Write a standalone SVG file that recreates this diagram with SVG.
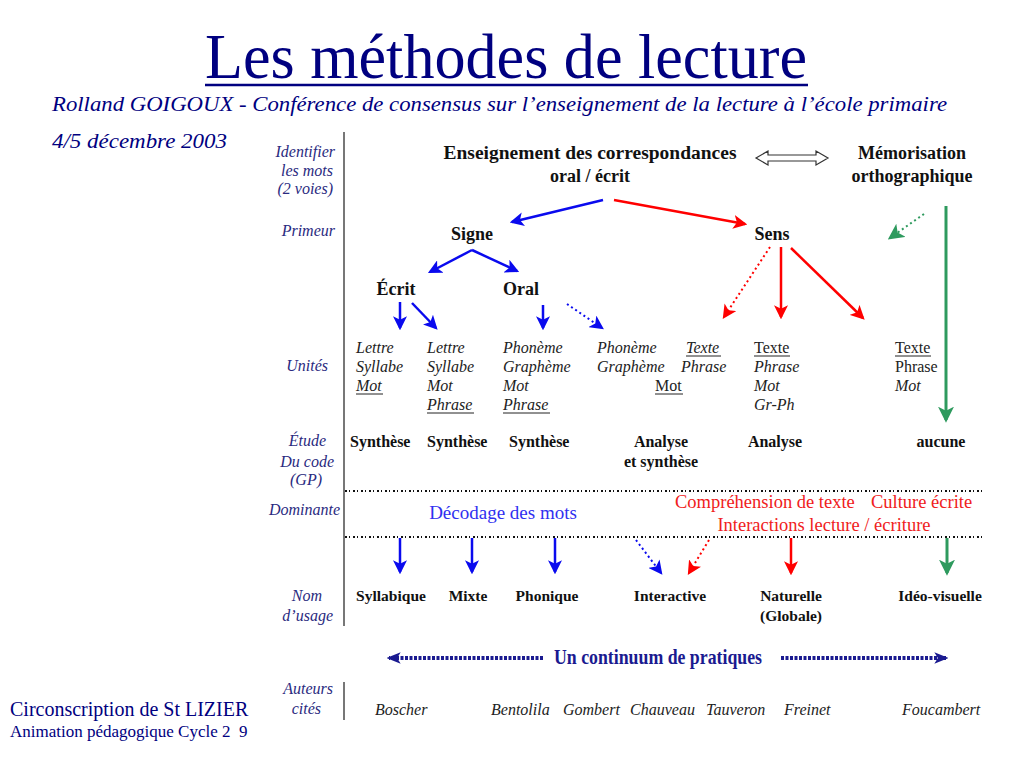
<svg xmlns="http://www.w3.org/2000/svg" width="1024" height="768" viewBox="0 0 1024 768">
<defs>
<style>
text{font-family:"Liberation Serif","Times New Roman",serif}
.title{font-size:64px;fill:#000080}
.sub{font-size:20px;font-style:italic;fill:#000080}
.lab{font-size:16px;font-style:italic;fill:#2a2a80;text-anchor:end}
.node{font-size:18px;font-weight:bold;fill:#111}
.unit{font-size:16px;font-style:italic;fill:#222}
.up{font-size:16px;fill:#222}
.et{font-size:16px;font-weight:bold;fill:#111}
.nom{font-size:15.5px;font-weight:bold;fill:#111}
.aut{font-size:16px;font-style:italic;fill:#222}
.c{text-anchor:middle}
.blue{stroke:#0a0aee;stroke-width:2.5;fill:none}
.red{stroke:#f00;stroke-width:2.5;fill:none}
.green{stroke:#2e9a5e;stroke-width:3;fill:none}
.dot{stroke-dasharray:2,3;stroke-width:2}
.sep{stroke:#111;stroke-width:2;stroke-dasharray:2,2,1,3}
.navy{stroke:#1a1a90;stroke-width:4;stroke-dasharray:3,1.5;fill:none}
</style>
<marker id="ab" viewBox="0 0 12 12" refX="10" refY="6" markerWidth="14" markerHeight="14" markerUnits="userSpaceOnUse" orient="auto"><path d="M0,0 L12,6 L0,12 L3,6 z" fill="#0a0aee"/></marker>
<marker id="ar" viewBox="0 0 12 12" refX="10" refY="6" markerWidth="14" markerHeight="14" markerUnits="userSpaceOnUse" orient="auto"><path d="M0,0 L12,6 L0,12 L3,6 z" fill="#f00"/></marker>
<marker id="ag" viewBox="0 0 12 12" refX="10" refY="6" markerWidth="16" markerHeight="16" markerUnits="userSpaceOnUse" orient="auto"><path d="M0,0 L12,6 L0,12 L3,6 z" fill="#2e9a5e"/></marker>
<marker id="an" viewBox="0 0 12 12" refX="10" refY="6" markerWidth="14" markerHeight="14" markerUnits="userSpaceOnUse" orient="auto"><path d="M0,1 L12,6 L0,11 L3,6 z" fill="#1a1a90"/></marker>
</defs>
<rect width="1024" height="768" fill="#fff"/>

<g id="header">
<text class="title" x="205" y="78" textLength="602" lengthAdjust="spacingAndGlyphs">Les méthodes de lecture</text>
<line x1="205" y1="85" x2="808" y2="85" stroke="#000080" stroke-width="2.5"/>
<text class="sub" x="52" y="111" textLength="895" lengthAdjust="spacingAndGlyphs">Rolland GOIGOUX - Conférence de consensus sur l’enseignement de la lecture à l’école primaire</text>
<text class="sub" x="52" y="148" textLength="175" lengthAdjust="spacingAndGlyphs">4/5 décembre 2003</text>
</g>

<g id="row-labels">
<text class="lab" x="335" y="157">Identifier</text>
<text class="lab" x="333" y="176">les mots</text>
<text class="lab" x="333" y="194">(2 voies)</text>
<text class="lab" x="335" y="236">Primeur</text>
<text class="lab" x="328" y="371">Unités</text>
<text class="lab" x="326" y="446">Étude</text>
<text class="lab" x="334" y="467">Du code</text>
<text class="lab" x="322" y="485">(GP)</text>
<text class="lab" x="340" y="515">Dominante</text>
<text class="lab" x="322" y="601">Nom</text>
<text class="lab" x="333" y="621">d’usage</text>
<text class="lab" x="333" y="694">Auteurs</text>
<text class="lab" x="321" y="714">cités</text>
<line x1="344" y1="132" x2="344" y2="626" stroke="#777" stroke-width="2"/>
<line x1="344" y1="682" x2="344" y2="720" stroke="#777" stroke-width="2"/>
</g>

<g id="top-nodes">
<g id="n-enseignement"><text class="node c" x="590" y="159" textLength="293" lengthAdjust="spacingAndGlyphs">Enseignement des correspondances</text><text class="node c" x="590" y="182">oral / écrit</text></g>
<g id="n-memorisation"><text class="node c" x="912" y="159">Mémorisation</text><text class="node c" x="912" y="182">orthographique</text></g>
<g id="n-signe"><text class="node c" x="472" y="240">Signe</text></g>
<g id="n-sens"><text class="node c" x="772" y="240">Sens</text></g>
<g id="n-ecrit"><text class="node c" x="396" y="295">Écrit</text></g>
<g id="n-oral"><text class="node c" x="521" y="295">Oral</text></g>
</g>

<g id="unites">
<text class="unit" x="356" y="353">Lettre</text><text class="unit" x="356" y="372">Syllabe</text><text class="unit" x="356" y="391">Mot</text>
<line x1="356" y1="394" x2="383" y2="394" stroke="#222"/>
<text class="unit" x="427" y="353">Lettre</text><text class="unit" x="427" y="372">Syllabe</text><text class="unit" x="427" y="391">Mot</text><text class="unit" x="427" y="410">Phrase</text>
<line x1="427" y1="413" x2="474" y2="413" stroke="#222"/>
<text class="unit" x="503" y="353">Phonème</text><text class="unit" x="503" y="372">Graphème</text><text class="unit" x="503" y="391">Mot</text><text class="unit" x="503" y="410">Phrase</text>
<line x1="503" y1="413" x2="550" y2="413" stroke="#222"/>
<text class="unit" x="597" y="353">Phonème</text><text class="unit" x="597" y="372">Graphème</text>
<text class="up" x="655" y="391">Mot</text>
<line x1="655" y1="394" x2="683" y2="394" stroke="#222"/>
<text class="unit" x="686" y="353">Texte</text>
<line x1="686" y1="356" x2="721" y2="356" stroke="#222"/>
<text class="unit" x="681" y="372">Phrase</text>
<text class="up" x="754" y="353">Texte</text>
<line x1="754" y1="356" x2="790" y2="356" stroke="#222"/>
<text class="unit" x="754" y="372">Phrase</text><text class="unit" x="754" y="391">Mot</text><text class="unit" x="754" y="410">Gr-Ph</text>
<text class="up" x="895" y="353">Texte</text>
<line x1="895" y1="356" x2="931" y2="356" stroke="#222"/>
<text class="up" x="895" y="372">Phrase</text><text class="unit" x="895" y="391">Mot</text>
</g>

<g id="etude">
<text class="et" x="350" y="447">Synthèse</text>
<text class="et" x="427" y="447">Synthèse</text>
<text class="et" x="509" y="447">Synthèse</text>
<text class="et c" x="661" y="447">Analyse</text>
<text class="et c" x="661" y="467">et synthèse</text>
<text class="et c" x="775" y="447">Analyse</text>
<text class="et c" x="941" y="447">aucune</text>
</g>

<g id="dominante">
<line class="sep" x1="345" y1="491" x2="983" y2="491"/>
<line class="sep" x1="345" y1="537" x2="983" y2="537"/>
<text x="503" y="519" class="c" font-size="19" fill="#3030f0">Décodage des mots</text>
<text x="675" y="508" font-size="18.5" fill="#f02020">Compréhension de texte</text>
<text x="871" y="508" font-size="18.5" fill="#f02020">Culture écrite</text>
<text x="824" y="531" class="c" font-size="18.5" fill="#f02020">Interactions lecture / écriture</text>
</g>

<g id="noms">
<text class="nom c" x="391" y="601">Syllabique</text>
<text class="nom c" x="468" y="601">Mixte</text>
<text class="nom c" x="547" y="601">Phonique</text>
<text class="nom c" x="670" y="601">Interactive</text>
<text class="nom c" x="791" y="601">Naturelle</text>
<text class="nom c" x="791" y="621">(Globale)</text>
<text class="nom c" x="940" y="601">Idéo-visuelle</text>
</g>

<g id="continuum">
<text x="658" y="664" class="c" font-size="22" font-weight="bold" fill="#1a1a90" font-family="Liberation Sans Narrow, Liberation Sans, sans-serif" textLength="208" lengthAdjust="spacingAndGlyphs">Un continuum de pratiques</text>
<line class="navy" x1="543" y1="658" x2="389" y2="658" marker-end="url(#an)"/>
<line class="navy" x1="781" y1="658" x2="946" y2="658" marker-end="url(#an)"/>
</g>

<g id="auteurs">
<text class="aut" x="375" y="715">Boscher</text>
<text class="aut" x="491" y="715">Bentolila</text>
<text class="aut" x="563" y="715">Gombert</text>
<text class="aut" x="630" y="715">Chauveau</text>
<text class="aut" x="706" y="715">Tauveron</text>
<text class="aut" x="784" y="715">Freinet</text>
<text class="aut" x="902" y="715">Foucambert</text>
</g>

<g id="footer">
<text x="10" y="716" font-size="20" fill="#000080">Circonscription de St LIZIER</text>
<text x="10" y="737" font-size="17" fill="#000080" xml:space="preserve">Animation pédagogique Cycle 2  9</text>
</g>

<g id="connectors">
<path d="M756,158 L768,151 L768,155 L816,155 L816,151 L828,158 L816,165 L816,161 L768,161 L768,165 Z" fill="#fff" stroke="#333" stroke-width="1.2"/>
<line class="blue" x1="603" y1="200" x2="512" y2="222" marker-end="url(#ab)"/>
<line class="red" x1="614" y1="200" x2="745" y2="224" marker-end="url(#ar)"/>
<line class="blue" x1="472" y1="250" x2="430" y2="272" marker-end="url(#ab)"/>
<line class="blue" x1="472" y1="250" x2="517" y2="271" marker-end="url(#ab)"/>
<line class="blue" x1="400" y1="302" x2="400" y2="328" marker-end="url(#ab)"/>
<line class="blue" x1="412" y1="303" x2="436" y2="328" marker-end="url(#ab)"/>
<line class="blue" x1="543" y1="305" x2="543" y2="328" marker-end="url(#ab)"/>
<line class="blue dot" x1="567" y1="304" x2="602" y2="328" marker-end="url(#ab)"/>
<line class="red dot" x1="770" y1="247" x2="724" y2="317" marker-end="url(#ar)"/>
<line class="red" x1="781" y1="247" x2="781" y2="317" marker-end="url(#ar)"/>
<line class="red" x1="791" y1="248" x2="863" y2="318" marker-end="url(#ar)"/>
<line class="green dot" x1="924" y1="214" x2="890" y2="238" marker-end="url(#ag)"/>
<line class="green" x1="946" y1="206" x2="946" y2="420" marker-end="url(#ag)"/>
<line class="blue" x1="400" y1="538" x2="400" y2="572" marker-end="url(#ab)"/>
<line class="blue" x1="472" y1="538" x2="472" y2="572" marker-end="url(#ab)"/>
<line class="blue" x1="555" y1="538" x2="555" y2="572" marker-end="url(#ab)"/>
<line class="blue dot" x1="636" y1="540" x2="661" y2="573" marker-end="url(#ab)"/>
<line class="red dot" x1="709" y1="540" x2="689" y2="573" marker-end="url(#ar)"/>
<line class="red" x1="791" y1="538" x2="791" y2="573" marker-end="url(#ar)"/>
<line class="green" x1="947" y1="538" x2="947" y2="573" marker-end="url(#ag)"/>
</g>
</svg>
